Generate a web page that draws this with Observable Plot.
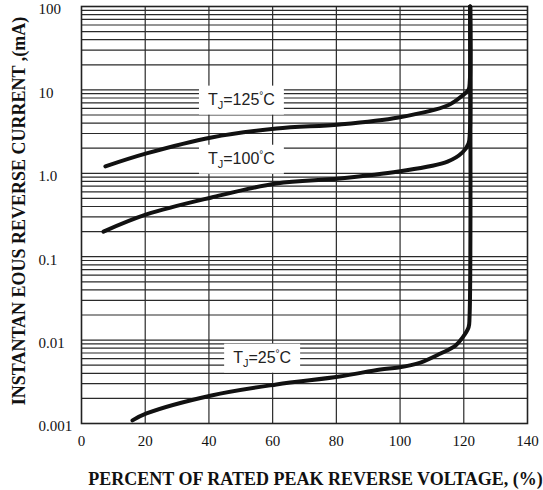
<!DOCTYPE html>
<html><head><meta charset="utf-8">
<script src="https://cdn.jsdelivr.net/npm/d3@7"></script>
<script src="https://cdn.jsdelivr.net/npm/@observablehq/plot@0.6"></script>
<style>body{margin:0;background:#fff} svg{display:block}</style>
</head><body><div id="chart"></div>
<script>
// Axis ticks and labels
const xTicks = [0, 20, 40, 60, 80, 100, 120, 140];
const xTickLabels = ["0", "20", "40", "60", "80", "100", "120", "140"];
const yTicks = [0.001, 0.01, 0.1, 1, 10, 100];
const yTickLabels = ["0.001", "0.01", "0.1", "1.0", "10", "100"];
const xGrid = [20, 40, 60, 80, 100, 120];
const decades = [0.001, 0.01, 0.1, 1, 10];
const minorSteps = [1, 2, 3, 4, 5, 6, 7, 8, 9];

// Series: percent of rated peak reverse voltage vs reverse current (mA)
const pct125 = [7.5, 20.4, 40.8, 61.2, 81, 99.5, 114.9, 119.6, 121.5, 121.9, 122];
const ir125  = [1.21, 1.73, 2.69, 3.44, 3.85, 4.67, 6.5, 8.57, 10.1, 13, 100];
const pct100 = [6.9, 20.4, 40.8, 61.2, 81, 99.5, 114.9, 119.6, 121.5, 121.9, 122];
const ir100  = [0.200, 0.321, 0.513, 0.755, 0.867, 1.05, 1.38, 1.78, 2.28, 3.08, 100];
const pct25  = [16, 20.4, 40.8, 61.2, 81, 93.8, 99.5, 106.4, 112.7, 117.4, 119.6, 121.5, 121.8, 122];
const ir25   = [0.00109, 0.00132, 0.00217, 0.00294, 0.00366, 0.00444, 0.00469, 0.00538, 0.0069, 0.0086, 0.0107, 0.0142, 0.0187, 100];

// Curve labels
const labelTemps = ["125", "100", "25"];
const labelX = [50.2, 50.2, 56.7];
const labelY = [7.67, 1.50, 0.00618];

const yGrid = [];
decades.forEach(d => minorSteps.forEach(m => yGrid.push(+(d * m).toPrecision(3))));
yGrid.push(100);

const toRows = (xs, ys) => xs.map((x, i) => ({x, y: ys[i]}));
const labels = labelTemps.map((t, i) => ({x: labelX[i], y: labelY[i], t: "TJ=" + t + "°C"}));

const plot = Plot.plot({
  width: 543, height: 490,
  marginLeft: 81, marginRight: 16, marginTop: 6, marginBottom: 67,
  style: {fontFamily: "'Liberation Serif', 'Times New Roman', serif", fontSize: "15px", color: "#111", background: "#fff"},
  x: {domain: [0, 140]},
  y: {type: "log", domain: [0.001, 100]},
  marks: [
    Plot.ruleY(yGrid, {stroke: "#2a2a2a", strokeWidth: 1.2}),
    Plot.ruleX(xGrid, {stroke: "#2a2a2a", strokeWidth: 1.2}),
    Plot.frame({stroke: "#222", strokeWidth: 1.6}),
    Plot.axisX({ticks: xTicks, tickFormat: d => xTickLabels[xTicks.indexOf(d)], tickSize: 0, tickPadding: 12, fontSize: 15,
      label: "PERCENT OF RATED PEAK REVERSE VOLTAGE, (%)", labelAnchor: "center", labelOffset: 61, labelArrow: "none"}),
    Plot.axisY({ticks: yTicks, tickFormat: d => yTickLabels[yTicks.indexOf(d)], tickSize: 0, tickPadding: 43, textAnchor: "start", fontSize: 15, dy: 3,
      label: "INSTANTAN EOUS REVERSE CURRENT ,(mA)", labelAnchor: "center", labelOffset: 69, labelArrow: "none"}),
    Plot.line(toRows(pct125, ir125), {x: "x", y: "y", curve: "catmull-rom", stroke: "#111", strokeWidth: 4}),
    Plot.line(toRows(pct100, ir100), {x: "x", y: "y", curve: "catmull-rom", stroke: "#111", strokeWidth: 4}),
    Plot.line(toRows(pct25, ir25), {x: "x", y: "y", curve: "catmull-rom", stroke: "#111", strokeWidth: 4}),
    Plot.text(labels, {x: "x", y: "y", text: "t", fontFamily: "'Liberation Sans', Arial, sans-serif", fontSize: 16, fill: "#222"})
  ]
});
document.getElementById("chart").append(plot);

// Bold axis titles
const xl = plot.querySelector('g[aria-label="x-axis label"]');
if (xl) {
  xl.setAttribute("font-weight", "bold"); xl.setAttribute("font-size", "18");
  xl.setAttribute("transform", "translate(11,0) " + (xl.getAttribute("transform") || ""));
}
const yl = plot.querySelector('g[aria-label="y-axis label"]');
if (yl) {
  yl.setAttribute("font-weight", "bold"); yl.setAttribute("font-size", "18");
  yl.setAttribute("transform", "translate(0,-4) " + (yl.getAttribute("transform") || ""));
}

// Rich curve labels with subscript J and superscript degree, on white boxes
const NS = "http://www.w3.org/2000/svg";
const tg = plot.querySelector('g[aria-label="text"]');
if (tg) {
  const texts = Array.from(tg.querySelectorAll("text"));
  texts.forEach(t => {
    const s = t.textContent;
    const num = s.slice(3, s.indexOf("°"));
    t.textContent = "";
    const parts = [["T", null, null], ["J", 11, 4], ["=" + num, null, -4], ["°", 10, -6], ["C", null, 6]];
    parts.forEach(([txt, fs, dy]) => {
      const sp = document.createElementNS(NS, "tspan");
      sp.textContent = txt;
      if (fs) sp.setAttribute("font-size", fs);
      if (dy) sp.setAttribute("dy", dy);
      t.appendChild(sp);
    });
  });
  texts.forEach(t => {
    const b = t.getBBox();
    const r = document.createElementNS(NS, "rect");
    r.setAttribute("x", b.x - 9);
    r.setAttribute("y", b.y - 4);
    r.setAttribute("width", b.width + 18);
    r.setAttribute("height", b.height + 8);
    r.setAttribute("fill", "#fff");
    r.setAttribute("stroke", "none");
    const tr = t.getAttribute("transform");
    if (tr) r.setAttribute("transform", tr);
    tg.insertBefore(r, tg.firstChild);
  });
}
</script>
</body></html>
